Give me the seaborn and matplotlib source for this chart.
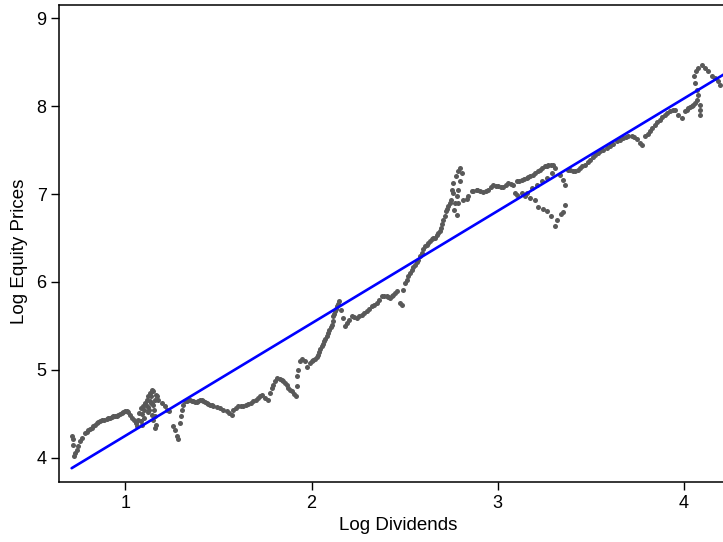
import matplotlib
matplotlib.use("Agg")
import matplotlib.pyplot as plt
import seaborn as sns
import numpy as np
import pandas as pd

# Digitised (Log Dividends, Log Equity Prices) pairs
log_div = [
    0.711, 0.717, 0.720, 0.729, 0.724, 0.738, 0.747, 0.756, 0.765, 0.783, 0.801, 0.819, 0.837, 0.854,
    0.873, 0.900, 0.917, 0.935, 0.953, 0.971, 0.989, 1.007, 1.016, 1.025, 1.034, 1.046, 1.057, 1.064,
    1.069, 1.075, 1.082, 1.096, 1.105, 1.114, 1.123, 1.132, 1.141, 1.150, 1.136, 1.128, 1.141, 1.150,
    1.159, 1.164, 1.168, 1.177, 1.195, 1.213, 1.222, 1.236, 1.257, 1.267, 1.276, 1.284, 1.293, 1.297,
    1.303, 1.311, 1.329, 1.347, 1.365, 1.383, 1.401, 1.419, 1.437, 1.455,
    1.090, 1.100, 1.110, 1.120, 1.130, 1.140, 1.145, 1.155, 1.160, 1.120, 1.100, 1.090, 1.085, 1.150,
    1.160, 1.165,
    1.320, 1.338, 1.356, 1.374, 1.392, 1.410, 1.428, 1.446, 1.464,
    0.792, 0.810, 0.828, 0.846, 0.863, 0.886, 0.908, 0.926, 0.944, 0.962, 0.980, 0.998,
    1.472, 1.508, 1.544, 1.571, 1.580, 1.607, 1.634, 1.660, 1.687, 1.714, 1.732, 1.750, 1.768, 1.777,
    1.795, 1.816, 1.840, 1.858, 1.875, 1.894, 1.917, 1.920, 1.924, 1.929, 1.938, 1.947, 1.965, 1.977,
    1.992, 2.010, 2.028, 2.042, 2.055, 2.067, 2.082, 2.096, 2.109, 2.117, 2.126, 2.135, 2.149, 2.157,
    2.171, 2.180, 2.189,
    1.490, 1.526, 1.558, 1.595, 1.620, 1.647, 1.673, 1.700, 1.723, 1.786, 1.806, 1.828, 1.849, 1.866,
    1.885, 1.905,
    2.001, 2.019, 2.035, 2.048, 2.061, 2.075, 2.089, 2.103, 2.113, 2.122, 2.130, 2.142,
    2.216, 2.243, 2.270, 2.297, 2.323, 2.350, 2.377, 2.404, 2.422, 2.440, 2.458, 2.476, 2.485, 2.493,
    2.502, 2.520, 2.538, 2.556, 2.574, 2.592, 2.610, 2.628, 2.646, 2.664, 2.681, 2.694, 2.708, 2.723,
    2.735, 2.748, 2.753, 2.762, 2.777, 2.789, 2.798, 2.807, 2.798, 2.789, 2.780, 2.773, 2.766, 2.780,
    2.762, 2.789, 2.816, 2.843, 2.869, 2.891,
    2.200, 2.230, 2.256, 2.283, 2.310, 2.336, 2.363, 2.390, 2.413, 2.431, 2.449,
    2.511, 2.529, 2.547, 2.565, 2.583, 2.601, 2.619, 2.637, 2.655, 2.672, 2.688, 2.701, 2.716, 2.729,
    2.742,
    2.834, 2.861, 2.888, 2.923, 2.950, 2.977, 3.004, 3.031, 3.057, 3.084, 3.093, 3.103, 3.130, 3.156,
    3.174, 3.201, 3.228, 3.255, 3.272, 3.299, 3.308, 3.335, 3.353, 3.362, 3.291, 3.264, 3.237, 3.210,
    3.183, 3.156, 3.130, 3.103,
    2.905, 2.937, 2.964, 2.990, 3.018, 3.044, 3.070, 3.116, 3.143, 3.165, 3.188, 3.215, 3.241, 3.263,
    3.285,
    3.147, 3.174, 3.201, 3.219, 3.245, 3.267, 3.285, 3.308, 3.321, 3.339, 3.353, 3.362,
    3.389, 3.416, 3.443, 3.470, 3.496, 3.523, 3.550,
    3.376, 3.403, 3.430, 3.456, 3.483, 3.510, 3.537,
    3.532, 3.568, 3.604, 3.640, 3.675, 3.702, 3.721, 3.747, 3.765, 3.774, 3.792, 3.819, 3.845, 3.872,
    3.899, 3.926, 3.953, 3.971, 3.989, 4.007, 4.025, 4.043, 4.061, 4.070, 4.078, 4.070, 4.061, 4.055,
    4.066, 4.078, 4.097, 4.114, 4.132, 4.150, 4.168, 4.186, 4.195, 4.088, 4.088, 4.088,
    3.586, 3.622, 3.658, 3.689, 3.734, 3.806, 3.832, 3.858, 3.885, 3.912, 3.940, 4.016, 4.034, 4.052,
]
log_price = [
    4.245, 4.216, 4.151, 4.057, 4.018, 4.094, 4.132, 4.189, 4.227, 4.284, 4.322, 4.341, 4.378, 4.405,
    4.427, 4.443, 4.455, 4.473, 4.481, 4.503, 4.526, 4.538, 4.518, 4.492, 4.455, 4.435, 4.398, 4.367,
    4.435, 4.511, 4.568, 4.586, 4.625, 4.663, 4.700, 4.739, 4.776, 4.757, 4.625, 4.549, 4.492, 4.435,
    4.341, 4.378, 4.700, 4.663, 4.625, 4.586, 4.549, 4.530, 4.359, 4.322, 4.245, 4.216, 4.398, 4.473,
    4.549, 4.606, 4.643, 4.663, 4.643, 4.632, 4.663, 4.643, 4.625, 4.606,
    4.500, 4.550, 4.600, 4.580, 4.650, 4.700, 4.620, 4.550, 4.480, 4.520, 4.450, 4.380, 4.420, 4.600,
    4.660, 4.720,
    4.650, 4.655, 4.650, 4.640, 4.650, 4.655, 4.635, 4.615, 4.600,
    4.300, 4.335, 4.360, 4.392, 4.415, 4.435, 4.450, 4.465, 4.478, 4.490, 4.515, 4.532,
    4.594, 4.568, 4.530, 4.492, 4.549, 4.594, 4.586, 4.617, 4.643, 4.682, 4.719, 4.682, 4.655, 4.739,
    4.833, 4.909, 4.890, 4.852, 4.795, 4.757, 4.708, 4.814, 4.927, 5.003, 5.098, 5.125, 5.098, 5.034,
    5.080, 5.117, 5.148, 5.200, 5.268, 5.325, 5.382, 5.458, 5.515, 5.609, 5.666, 5.723, 5.780, 5.685,
    5.591, 5.495, 5.534,
    4.580, 4.550, 4.510, 4.570, 4.590, 4.600, 4.630, 4.660, 4.700, 4.790, 4.870, 4.900, 4.870, 4.825,
    4.775, 4.730,
    5.100, 5.130, 5.175, 5.235, 5.297, 5.355, 5.420, 5.487, 5.560, 5.640, 5.695, 5.750,
    5.609, 5.591, 5.628, 5.666, 5.723, 5.761, 5.836, 5.836, 5.818, 5.856, 5.893, 5.761, 5.742, 5.913,
    5.989, 6.064, 6.140, 6.197, 6.253, 6.330, 6.405, 6.443, 6.489, 6.500, 6.557, 6.614, 6.708, 6.802,
    6.859, 6.935, 7.049, 7.125, 7.200, 7.257, 7.295, 7.239, 7.143, 7.049, 6.973, 6.898, 6.822, 6.765,
    7.011, 6.898, 6.935, 6.973, 7.030, 7.049,
    5.570, 5.600, 5.610, 5.645, 5.695, 5.742, 5.800, 5.836, 5.827, 5.837, 5.875,
    6.025, 6.100, 6.170, 6.225, 6.290, 6.370, 6.425, 6.465, 6.495, 6.530, 6.585, 6.660, 6.755, 6.830,
    6.900,
    6.943, 7.030, 7.041, 7.018, 7.049, 7.106, 7.086, 7.080, 7.125, 7.106, 7.011, 7.143, 7.163, 7.182,
    7.200, 7.239, 7.276, 7.314, 7.333, 7.333, 7.295, 7.219, 7.163, 7.106, 7.239, 7.182, 7.143, 7.106,
    7.068, 7.011, 7.011, 6.992,
    7.030, 7.035, 7.080, 7.095, 7.083, 7.100, 7.115, 7.153, 7.172, 7.191, 7.220, 7.258, 7.295, 7.323,
    7.333,
    6.973, 6.955, 6.927, 6.852, 6.830, 6.802, 6.745, 6.632, 6.700, 6.776, 6.799, 6.878,
    7.276, 7.257, 7.295, 7.333, 7.390, 7.447, 7.484,
    7.270, 7.265, 7.276, 7.314, 7.360, 7.420, 7.465,
    7.466, 7.503, 7.541, 7.598, 7.636, 7.655, 7.663, 7.625, 7.580, 7.560, 7.655, 7.711, 7.788, 7.844,
    7.901, 7.939, 7.958, 7.901, 7.864, 7.939, 7.977, 7.995, 8.034, 8.072, 8.128, 8.185, 8.261, 8.336,
    8.393, 8.432, 8.470, 8.432, 8.393, 8.336, 8.318, 8.280, 8.242, 8.011, 7.955, 7.899,
    7.522, 7.570, 7.617, 7.645, 7.645, 7.685, 7.750, 7.816, 7.872, 7.920, 7.950, 7.958, 7.986, 8.015,
]

# Fitted regression line
fit_intercept = 2.976
fit_slope = 1.277
fit_x_end = 4.25

x_ticks = [1, 2, 3, 4]
y_ticks = [4, 5, 6, 7, 8, 9]

sns.set_theme(style="white")
plt.rcParams['font.family'] = ['Liberation Sans', 'DejaVu Sans']
plt.rcParams['text.color'] = 'black'
plt.rcParams['axes.labelcolor'] = 'black'
plt.rcParams['xtick.color'] = 'black'
plt.rcParams['ytick.color'] = 'black'

df = pd.DataFrame({"Log Dividends": log_div, "Log Equity Prices": log_price})
fx = np.array([min(log_div), fit_x_end])
fit_df = pd.DataFrame({"x": fx, "y": fit_intercept + fit_slope * fx})

fig = plt.figure(figsize=(7.23, 5.42), dpi=100)
ax = fig.add_axes([59 / 723, 1 - 482 / 542, 1 - 59 / 723, (482 - 5) / 542])

sns.scatterplot(data=df, x="Log Dividends", y="Log Equity Prices", ax=ax,
                color="#595959", s=13, linewidth=0, zorder=2)
sns.lineplot(data=fit_df, x="x", y="y", ax=ax, color="#0000ff", linewidth=1.9, zorder=3)

ax.set_xlim(0.643, 4.211)
ax.set_ylim(3.727, 9.148)
ax.set_xticks(x_ticks)
ax.set_yticks(y_ticks)
ax.set_xlabel("Log Dividends", fontsize=13.5, color="black")
ax.set_ylabel("Log Equity Prices", fontsize=13.5, color="black")
ax.xaxis.set_label_coords(0.5105, -0.074)
ax.yaxis.set_label_coords(-0.047, 0.484)
ax.tick_params(axis="both", which="major", direction="out", length=6, width=1,
               color="black", labelcolor="black", labelsize=13, left=True, bottom=True, pad=3)
for side, sp in ax.spines.items():
    sp.set_color("black")
    sp.set_linewidth(1.1)
ax.spines["right"].set_visible(False)
ax.grid(False)

fig.savefig("out.png", dpi=100)
